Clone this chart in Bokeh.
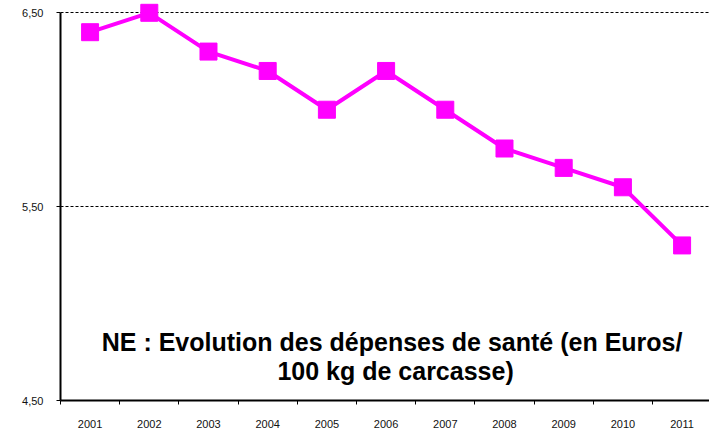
from bokeh.plotting import figure
from bokeh.models import Range1d, FixedTicker, Label
from bokeh.embed import file_html
from bokeh.resources import INLINE

years = [2001, 2002, 2003, 2004, 2005, 2006, 2007, 2008, 2009, 2010, 2011]
year_labels = ["2001", "2002", "2003", "2004", "2005", "2006", "2007", "2008", "2009", "2010", "2011"]
values = [6.40, 6.50, 6.30, 6.20, 6.00, 6.20, 6.00, 5.80, 5.70, 5.60, 5.30]
y_ticks = [4.5, 5.5, 6.5]
y_tick_labels = ["4,50", "5,50", "6,50"]
title_lines = ["NE :  Evolution des dépenses de santé (en Euros/", "100 kg de carcasse)"]

p = figure(width=709, height=430, output_backend="svg", toolbar_location=None,
           x_range=Range1d(years[0] - 0.5, 2011.463),
           y_range=Range1d(4.5, 6.5635),
           min_border_left=60, min_border_right=0, min_border_top=0, min_border_bottom=30)
p.outline_line_color = None
p.background_fill_color = "white"
p.border_fill_color = "white"

# x axis: labels at centres, tick marks at boundaries
p.xaxis.ticker = FixedTicker(ticks=years, minor_ticks=[y - 0.5 for y in years] + [years[-1] + 0.5])
p.xaxis.major_label_overrides = {y: l for y, l in zip(years, year_labels)}
p.xaxis.major_tick_out = 0
p.xaxis.major_tick_in = 0
p.xaxis.minor_tick_out = 4
p.xaxis.minor_tick_in = 0
p.xaxis.minor_tick_line_color = "black"
p.xaxis.axis_line_width = 2
p.xaxis.axis_line_color = "black"
p.xaxis.major_label_standoff = 15
p.xaxis.major_label_text_font = "Liberation Sans"
p.xaxis.major_label_text_font_size = "11px"
p.xaxis.major_label_text_color = "#111111"

p.yaxis.ticker = FixedTicker(ticks=y_ticks, minor_ticks=[])
p.yaxis.major_label_overrides = {t: l for t, l in zip(y_ticks, y_tick_labels)}
p.yaxis.bounds = (4.5, 6.5)
p.yaxis.major_tick_out = 4
p.yaxis.major_tick_in = 0
p.yaxis.axis_line_width = 2
p.yaxis.axis_line_color = "black"
p.yaxis.major_label_standoff = 13
p.yaxis.major_label_text_font = "Liberation Sans"
p.yaxis.major_label_text_font_size = "11px"
p.yaxis.major_label_text_color = "#111111"

p.xgrid.grid_line_color = None
p.ygrid.ticker = FixedTicker(ticks=y_ticks[1:])
p.ygrid.grid_line_color = "black"
p.ygrid.grid_line_dash = "3 2"
p.ygrid.grid_line_width = 1

p.line(years, values, line_color="#FF00FF", line_width=4)
p.scatter(years, values, marker="square", size=17, fill_color="#FF00FF", line_color="#FF00FF")

p.add_layout(Label(x=2006.16, y=4.804, text=title_lines[0], text_align="center",
                   text_baseline="alphabetic", text_font="Liberation Sans",
                   text_font_style="bold", text_font_size="25px", text_color="black"))
p.add_layout(Label(x=2006.16, y=4.650, text=title_lines[1], text_align="center",
                   text_baseline="alphabetic", text_font="Liberation Sans",
                   text_font_style="bold", text_font_size="25px", text_color="black"))

open("out.html", "w").write(file_html(p, INLINE))
